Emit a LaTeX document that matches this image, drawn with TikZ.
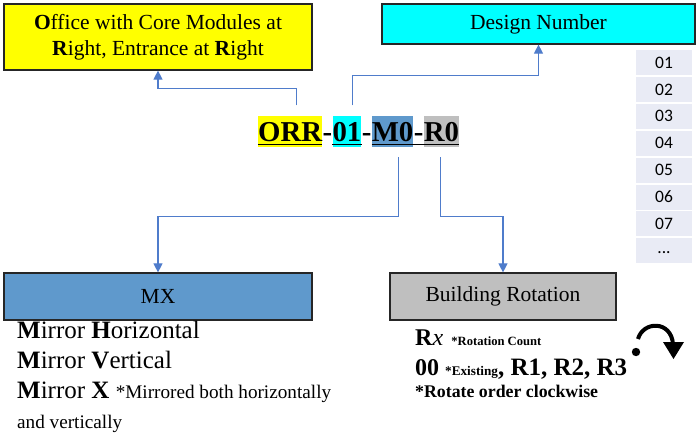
\documentclass[tikz,border=0pt]{standalone}
\usepackage{fontspec}
\setmainfont{Liberation Serif}
\newfontfamily\calib{Carlito}
\usetikzlibrary{arrows.meta}
\definecolor{hlyellow}{HTML}{FFFF00}
\definecolor{hlcyan}{HTML}{00FFFF}
\definecolor{mxblue}{HTML}{5F99CC}
\definecolor{rotgrey}{HTML}{BFBFBF}
\definecolor{connblue}{HTML}{4F7CCB}
\definecolor{cellbg}{HTML}{E9EBF5}
\begin{document}
\begin{tikzpicture}[x=1pt,y=-1pt,
  box/.style={draw=black!85, line width=1.2pt, inner sep=0pt, font=\fontsize{21.5}{25.5}\selectfont},
  seg/.style={anchor=base west, inner xsep=0pt, inner ysep=0pt, text height=26pt, text depth=5.5pt, font=\fontsize{28.8}{30}\selectfont\bfseries},
  conn/.style={draw=connblue, line width=1.1pt, -{Triangle[width=9pt,length=9pt]}},
  numcell/.style={fill=cellbg, minimum width=56pt, minimum height=25pt, inner sep=0pt, font=\calib\fontsize{17.5}{18}\selectfont},
  ul/.style={line width=1.6pt},
  txt/.style={anchor=base west, inner sep=0pt}]
\useasboundingbox (0,0) rectangle (697,432);

% top boxes
\node[box, fill=hlyellow, minimum width=308pt, minimum height=66pt, align=center] (yb) at (158,37)
  {\textbf{O}ffice with Core Modules at\\\textbf{R}ight, Entrance at \textbf{R}ight};
\node[box, fill=hlcyan, minimum width=313pt, minimum height=40pt] (dn) at (538.5,24) {Design Number};

% code
\node[seg, fill=hlyellow] (orr) at (258,141.5) {ORR};
\node[seg] (h1) at (orr.base east) {-};
\node[seg, fill=hlcyan] (num) at (h1.base east) {01};
\node[seg] (h2) at (num.base east) {-};
\node[seg, fill=mxblue] (mz) at (h2.base east) {M0};
\node[seg] (h3) at (mz.base east) {-};
\node[seg, fill=rotgrey] (rz) at (h3.base east) {R0};
\draw[ul] ([yshift=-3pt]orr.base west) -- ([yshift=-3pt]orr.base east);
\draw[ul] ([yshift=-3pt]num.base west) -- ([yshift=-3pt]num.base east);
\draw[ul] ([yshift=-3pt]mz.base west) -- ([yshift=-3pt]h3.base east);
\draw[ul] ([yshift=-3pt]rz.base west) -- ([yshift=-3pt]rz.base east);

% bottom boxes
\node[box, fill=mxblue, minimum width=308pt, minimum height=47pt] (mx) at (158,296.5) {MX};
\node[box, fill=rotgrey, minimum width=226pt, minimum height=47pt] (br) at (503,296.5) {Building Rotation};

% connectors
\draw[conn] ([xshift=6pt,yshift=10pt]orr.north) -- ++(0,-17) -| (yb.south);
\draw[conn] ([xshift=5.5pt,yshift=10pt]num.north) -- ++(0,-29.5) -| (dn.south);
\draw[conn] ([xshift=5.5pt,yshift=-10pt]mz.south) -- ++(0,59) -| (mx.north);
\draw[conn] ([xshift=-1pt,yshift=-10pt]rz.south) -- ++(0,59) -| (br.north);

% number list
\foreach \t [count=\i] in {01,02,03,04,05,06,07}
  \node[numcell] (n\i) at (664,{62.5+26.9*(\i-1)}) {\t};
\node[numcell] (n8) at (664,250.8) {\raisebox{-5pt}{...}};

% mirror text
\node[txt, font=\fontsize{25}{30}\selectfont] (m1) at (17,338) {\textbf{M}irror \textbf{H}orizontal};
\node[txt, font=\fontsize{25}{30}\selectfont] (m2) at (17,368) {\textbf{M}irror \textbf{V}ertical};
\node[txt, font=\fontsize{25}{30}\selectfont] (m3) at (17,398) {\textbf{M}irror \textbf{X} {\fontsize{19.2}{22}\selectfont *Mirrored both horizontally}};
\node[txt, font=\fontsize{19.2}{22}\selectfont] (m4) at (17,428) {and vertically};

% rotation text
\node[txt, font=\fontsize{24}{28}\selectfont] (r1) at (415,345) {\textbf{R}\textit{x}\hspace{8pt}{\fontsize{12.6}{14}\selectfont\bfseries *Rotation Count}};
\node[txt, font=\fontsize{24}{28}\selectfont\bfseries] (r2) at (415,375) {00 {\fontsize{13.2}{15}\selectfont *Existing}{\fontsize{25}{28}\selectfont, R1, R2, R3}};
\node[txt, font=\fontsize{17.8}{20}\selectfont\bfseries] (r3) at (415,397) {*Rotate order clockwise};

% clockwise symbol
\fill (636,352) circle[radius=4.2pt];
\draw[line width=4pt] (638,339) .. controls (643,321) and (671,320) .. (673,344);
\fill (663,342) -- (684,342) -- (673.5,359) -- cycle;
\end{tikzpicture}
\end{document}
